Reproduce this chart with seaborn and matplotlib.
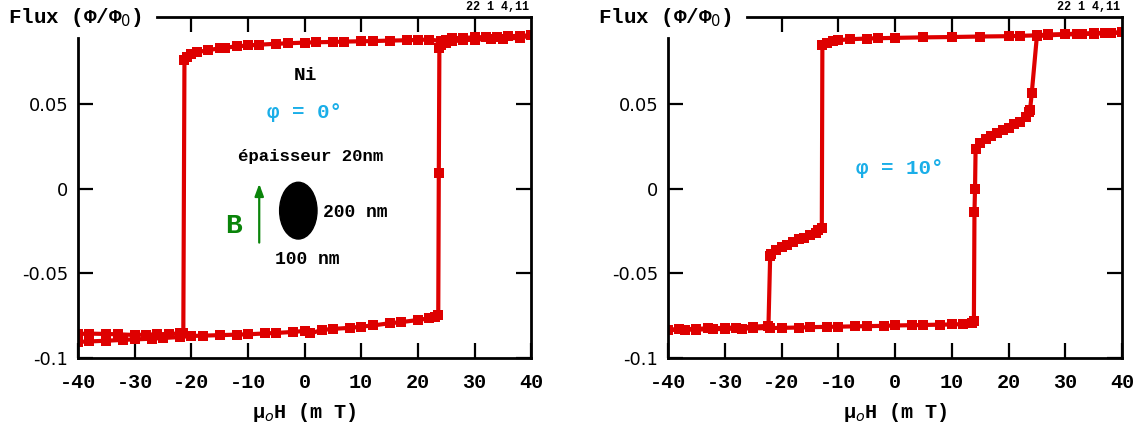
import matplotlib
matplotlib.use("Agg")
import matplotlib.pyplot as plt
import seaborn as sns
import pandas as pd
from matplotlib.patches import Ellipse

sns.set_theme(style="white")
plt.rcParams['font.family'] = ['DejaVu Sans']
plt.rcParams['text.color'] = 'black'
plt.rcParams['axes.labelcolor'] = 'black'
plt.rcParams['xtick.color'] = 'black'
plt.rcParams['ytick.color'] = 'black'

RED = "#de0000"
CYAN = "#1aaee8"
GREEN = "#0a840a"
MONO = "Liberation Mono"

# ---- Left panel (phi = 0 deg) ----
left_down_H = [40, 38, 36, 34, 32, 30, 28, 26, 25, 24.5, 24, 22, 20, 18, 15, 12, 10, 7, 5, 2, 0,
               -3, -5, -8, -10, -12, -14, -15, -17, -19, -20, -20.8, -21.2, -21.4, -22, -24,
               -26, -28, -30, -33, -35, -38, -40]
left_down_F = [0.0905, 0.0902, 0.0900, 0.0898, 0.0895, 0.0893, 0.0890, 0.0888, 0.0875, 0.0860,
               0.0872, 0.0880, 0.0878, 0.0876, 0.0874, 0.0871, 0.0870, 0.0868, 0.0866, 0.0864,
               0.0862, 0.0858, 0.0855, 0.0850, 0.0845, 0.0840, 0.0832, 0.0828, 0.0818, 0.0805,
               0.0795, 0.0775, 0.0760, -0.0850, -0.0855, -0.0858, -0.0860, -0.0862, -0.0864,
               -0.0860, -0.0858, -0.0856, -0.0858]
left_up_H = [-40, -38, -35, -32, -30, -27, -25, -22, -20, -18, -15, -12, -10, -7, -5, -2, 0, 1,
             3, 5, 8, 10, 12, 15, 17, 20, 22, 23, 23.6, 23.7, 23.8, 24.0, 25, 26, 28, 30, 33,
             35, 38, 40]
left_up_F = [-0.0905, -0.0902, -0.0898, -0.0893, -0.0890, -0.0886, -0.0882, -0.0876, -0.0870,
             -0.0868, -0.0865, -0.0862, -0.0860, -0.0855, -0.0852, -0.0846, -0.0840, -0.0855,
             -0.0835, -0.0828, -0.0822, -0.0815, -0.0808, -0.0795, -0.0788, -0.0776, -0.0765,
             -0.0755, -0.0748, 0.0095, 0.0830, 0.0850, 0.0862, 0.0870, 0.0876, 0.0880, 0.0884,
             0.0886, 0.0890, 0.0905]

# ---- Right panel (phi = 10 deg) ----
right_down_H = [40, 37, 35, 32, 30, 27, 25, 22, 20, 15, 10, 5, 0, -3, -5, -8, -10, -11, -12,
                -12.8, -12.9, -13.5, -14, -15, -16, -17, -18, -19, -20, -21, -21.8, -22.0,
                -22.3, -25, -28, -30, -33, -35, -38, -40]
right_down_F = [0.0922, 0.0920, 0.0918, 0.0915, 0.0912, 0.0910, 0.0905, 0.0902, 0.0900, 0.0898,
                0.0895, 0.0893, 0.0890, 0.0888, 0.0886, 0.0882, 0.0876, 0.0870, 0.0860, 0.0850,
                -0.0230, -0.0245, -0.0260, -0.0275, -0.0290, -0.0300, -0.0315, -0.0330,
                -0.0345, -0.0360, -0.0385, -0.0400, -0.0810, -0.0815, -0.0820, -0.0822,
                -0.0825, -0.0828, -0.0830, -0.0832]
right_up_H = [-40, -37, -35, -32, -30, -27, -25, -22, -20, -17, -15, -12, -10, -7, -5, -2, 0,
              3, 5, 8, 10, 12, 13.5, 13.9, 14.0, 14.1, 14.2, 15, 16, 17, 18, 19, 20, 21, 22,
              23, 23.6, 23.8, 24.1, 25, 27, 30, 33, 35, 38, 40]
right_up_F = [-0.0835, -0.0833, -0.0832, -0.0830, -0.0828, -0.0826, -0.0825, -0.0823, -0.0822,
              -0.0820, -0.0818, -0.0816, -0.0815, -0.0813, -0.0812, -0.0810, -0.0808, -0.0806,
              -0.0805, -0.0803, -0.0802, -0.0800, -0.0795, -0.0780, -0.0140, 0.0000, 0.0235,
              0.0270, 0.0295, 0.0310, 0.0330, 0.0345, 0.0360, 0.0380, 0.0395, 0.0420, 0.0450,
              0.0465, 0.0565, 0.0900, 0.0905, 0.0910, 0.0912, 0.0915, 0.0918, 0.0922]

x_ticks = [-40, -30, -20, -10, 0, 10, 20, 30, 40]
x_tick_labels = ["-40", "-30", "-20", "-10", "0", "10", "20", "30", "40"]
y_ticks = [-0.1, -0.05, 0, 0.05]
y_tick_labels = ["-0.1", "-0.05", "0", "0.05"]

def frame(branches):
    rows = []
    for name, H, F in branches:
        rows.append(pd.DataFrame({"H": H, "flux": F, "branch": name}))
    return pd.concat(rows, ignore_index=True)

left_df = frame([("down", left_down_H, left_down_F), ("up", left_up_H, left_up_F)])
right_df = frame([("down", right_down_H, right_down_F), ("up", right_up_H, right_up_F)])

fig = plt.figure(figsize=(11.33, 4.26), dpi=100)
ax1 = fig.add_axes([0.0688, 0.1596, 0.400, 0.800])
ax2 = fig.add_axes([0.5896, 0.1596, 0.4007, 0.800])

for ax, df in ((ax1, left_df), (ax2, right_df)):
    sns.lineplot(data=df, x="H", y="flux", units="branch", estimator=None, sort=False,
                 color=RED, lw=3.0, marker="s", markersize=6.5, markeredgewidth=0,
                 ax=ax, legend=False)
    ax.set_xlim(-40, 40)
    ax.set_ylim(-0.1, 0.1012)
    ax.set_xticks(x_ticks)
    ax.set_xticklabels(x_tick_labels, fontfamily=MONO, fontweight="bold", fontsize=14.5)
    ax.set_yticks(y_ticks)
    ax.set_yticklabels(y_tick_labels, fontfamily="DejaVu Sans", fontsize=13)
    ax.tick_params(axis="x", direction="in", length=11, width=1.6, bottom=True, top=False,
                   pad=11, colors="black")
    ax.tick_params(axis="y", direction="in", length=11, width=1.6, left=True, right=True,
                   pad=7, colors="black")
    for s in ax.spines.values():
        s.set_visible(True)
        s.set_color("black")
        s.set_linewidth(2.0)
    ax.spines["left"].set_bounds(-0.1, 0.0888)
    ax.spines["top"].set_bounds(-26, 40)
    sec = ax.secondary_xaxis("top")
    sec.set_xticks([-20, -10, 0, 10, 20, 30])
    sec.tick_params(direction="in", length=11, width=1.6, labeltop=False, colors="black")
    sec.spines["top"].set_visible(False)
    ax.grid(False)
    ax.set_ylabel("")
    ax.set_xlabel("μ$_o$H (m T)", fontfamily=MONO, fontweight="bold", fontsize=14.5,
                  labelpad=6, color="black")
    ax.text(-0.155, 1.0, "Flux (Φ/Φ$_0$)", transform=ax.transAxes, ha="left", va="center",
            fontfamily=MONO, fontweight="bold", fontsize=15, color="black")
    ax.text(0.995, 1.012, "22 1 4,11", transform=ax.transAxes, ha="right", va="bottom",
            fontfamily=MONO, fontweight="bold", fontsize=8.5, color="black")

# annotations left
ax1.text(0.2, 0.067, "Ni", ha="center", va="center", fontfamily=MONO, fontweight="bold",
         fontsize=14, color="black")
ax1.text(0.0, 0.045, "φ = 0°", ha="center", va="center", fontfamily=MONO, fontweight="bold",
         fontsize=15, color=CYAN)
ax1.text(1.0, 0.019, "épaisseur 20nm", ha="center", va="center", fontfamily=MONO,
         fontweight="bold", fontsize=12.5, color="black")
ax1.add_patch(Ellipse((-1.1, -0.013), 6.6, 0.0335, color="black"))
ax1.text(3.3, -0.014, "200 nm", ha="left", va="center", fontfamily=MONO, fontweight="bold",
         fontsize=13, color="black")
ax1.text(0.5, -0.042, "100 nm", ha="center", va="center", fontfamily=MONO, fontweight="bold",
         fontsize=13, color="black")
ax1.annotate("", xy=(-8.0, 0.0045), xytext=(-8.0, -0.0335),
             arrowprops=dict(arrowstyle="-|>,head_length=0.6,head_width=0.22", color=GREEN, lw=1.6))
ax1.text(-12.5, -0.022, "B", ha="center", va="center", fontfamily=MONO, fontweight="bold",
         fontsize=20, color=GREEN)

# annotations right
ax2.text(0.8, 0.012, "φ = 10°", ha="center", va="center", fontfamily=MONO, fontweight="bold",
         fontsize=15, color=CYAN)

fig.savefig("out.png", dpi=100)
